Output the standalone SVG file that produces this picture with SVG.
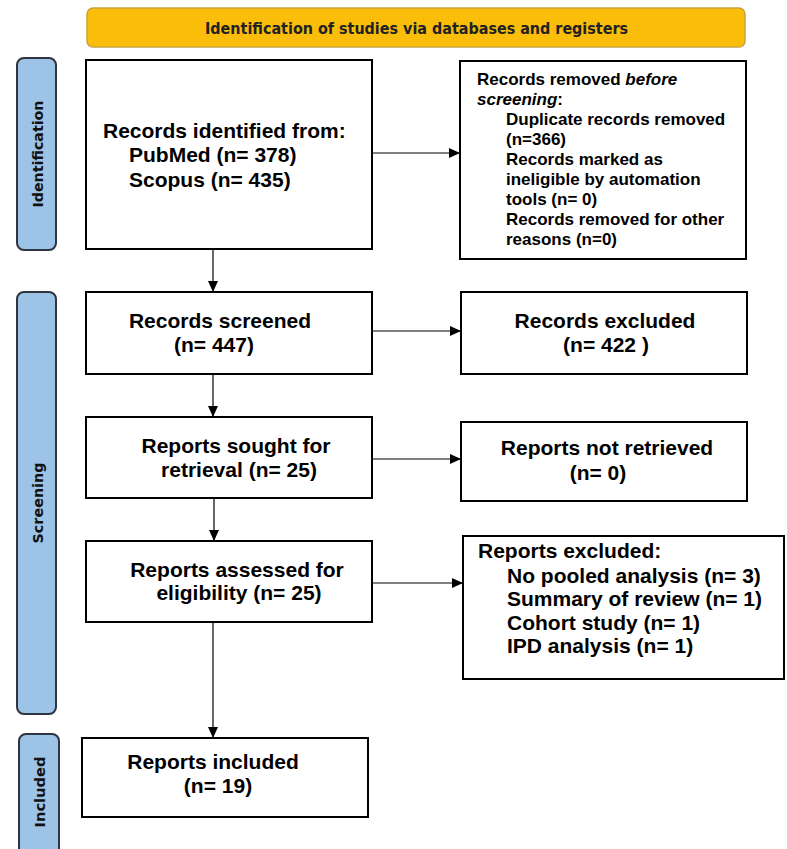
<svg xmlns="http://www.w3.org/2000/svg" width="787" height="849" viewBox="0 0 787 849">
<defs>
<marker id="ah" markerUnits="userSpaceOnUse" markerWidth="12" markerHeight="10" refX="11" refY="5" orient="auto">
<path d="M0,0 L11,5 L0,10 Z" fill="#000"/>
</marker>
<style>
.box{fill:#fff;stroke:#000;stroke-width:2}
.side{fill:#9DC3E6;stroke:#2E3440;stroke-width:2}
.t{font-family:"Liberation Sans",Arial,sans-serif;font-weight:bold;font-size:21px;fill:#000}
.s{font-family:"Liberation Sans",Arial,sans-serif;font-weight:bold;font-size:17px;fill:#000}
.v{font-family:"DejaVu Sans",Verdana,sans-serif;font-weight:bold;font-size:14.5px;fill:#111}
.b{font-family:"DejaVu Sans",Verdana,sans-serif;font-weight:bold;font-size:16px;fill:#222}
.c{stroke:#000;stroke-width:1.2;fill:none;marker-end:url(#ah)}
</style>
</defs>
<rect width="787" height="849" fill="#fff"/>
<g id="banner">
<rect x="87" y="8" width="658" height="39" rx="6" fill="#FABD0A" stroke="#C9A43B" stroke-width="1.5"/>
<text class="b" x="416.5" y="34" text-anchor="middle" textLength="423" lengthAdjust="spacingAndGlyphs">Identification of studies via databases and registers</text>
</g>
<g id="side-identification">
<rect class="side" x="17" y="58" width="39" height="192" rx="7"/>
<text class="v" transform="translate(43,154) rotate(-90)" text-anchor="middle" textLength="107" lengthAdjust="spacingAndGlyphs">Identification</text>
</g>
<g id="side-screening">
<rect class="side" x="17" y="292" width="39" height="422" rx="7"/>
<text class="v" transform="translate(43,503) rotate(-90)" text-anchor="middle" textLength="81" lengthAdjust="spacingAndGlyphs">Screening</text>
</g>
<g id="side-included">
<rect class="side" x="19" y="734" width="40" height="130" rx="7"/>
<text class="v" transform="translate(45,792) rotate(-90)" text-anchor="middle" textLength="71" lengthAdjust="spacingAndGlyphs">Included</text>
</g>
<g id="records-identified">
<rect class="box" x="86" y="60" width="286" height="189"/>
<text class="t" x="103" y="138">Records identified from:</text>
<text class="t" x="129" y="162">PubMed (n= 378)</text>
<text class="t" x="129" y="187">Scopus (n= 435)</text>
</g>
<g id="records-removed">
<rect class="box" x="460" y="61" width="286" height="198"/>
<text class="s" x="477" y="85">Records removed <tspan font-style="italic">before</tspan></text>
<text class="s" x="477" y="105"><tspan font-style="italic">screening</tspan>:</text>
<text class="s" x="506" y="125">Duplicate records removed</text>
<text class="s" x="506" y="145">(n=366)</text>
<text class="s" x="506" y="165">Records marked as</text>
<text class="s" x="506" y="185">ineligible by automation</text>
<text class="s" x="506" y="205">tools (n= 0)</text>
<text class="s" x="506" y="225">Records removed for other</text>
<text class="s" x="506" y="245">reasons (n=0)</text>
</g>
<g id="records-screened">
<rect class="box" x="86" y="292" width="286" height="82"/>
<text class="t" x="220" y="328" text-anchor="middle">Records screened</text>
<text class="t" x="214" y="352" text-anchor="middle">(n= 447)</text>
</g>
<g id="records-excluded">
<rect class="box" x="461" y="292" width="286" height="82"/>
<text class="t" x="605" y="328" text-anchor="middle">Records excluded</text>
<text class="t" x="606" y="352" text-anchor="middle">(n= 422 )</text>
</g>
<g id="reports-sought">
<rect class="box" x="86" y="417" width="286" height="81"/>
<text class="t" x="236" y="453" text-anchor="middle">Reports sought for</text>
<text class="t" x="239" y="477" text-anchor="middle">retrieval (n= 25)</text>
</g>
<g id="reports-not-retrieved">
<rect class="box" x="461" y="422" width="286" height="79"/>
<text class="t" x="607" y="455" text-anchor="middle">Reports not retrieved</text>
<text class="t" x="598" y="480" text-anchor="middle">(n= 0)</text>
</g>
<g id="reports-assessed">
<rect class="box" x="86" y="541" width="286" height="81"/>
<text class="t" x="237" y="577" text-anchor="middle">Reports assessed for</text>
<text class="t" x="239" y="600" text-anchor="middle">eligibility (n= 25)</text>
</g>
<g id="reports-excluded">
<rect class="box" x="463" y="536" width="321" height="143"/>
<text class="t" x="478" y="558">Reports excluded:</text>
<text class="t" x="507" y="583">No pooled analysis (n= 3)</text>
<text class="t" x="507" y="606">Summary of review (n= 1)</text>
<text class="t" x="507" y="630">Cohort study (n= 1)</text>
<text class="t" x="507" y="653">IPD analysis (n= 1)</text>
</g>
<g id="reports-included">
<rect class="box" x="82" y="738" width="286" height="79"/>
<text class="t" x="213" y="769" text-anchor="middle">Reports included</text>
<text class="t" x="218" y="793" text-anchor="middle">(n= 19)</text>
</g>
<g id="connectors">
<line class="c" x1="372" y1="153" x2="460" y2="153"/>
<line class="c" x1="213" y1="249" x2="213" y2="292"/>
<line class="c" x1="372" y1="331" x2="461" y2="331"/>
<line class="c" x1="213" y1="374" x2="213" y2="417"/>
<line class="c" x1="372" y1="459" x2="461" y2="459"/>
<line class="c" x1="214" y1="498" x2="214" y2="541"/>
<line class="c" x1="373" y1="583" x2="463" y2="583"/>
<line class="c" x1="213" y1="622" x2="213" y2="738"/>
</g>
</svg>
